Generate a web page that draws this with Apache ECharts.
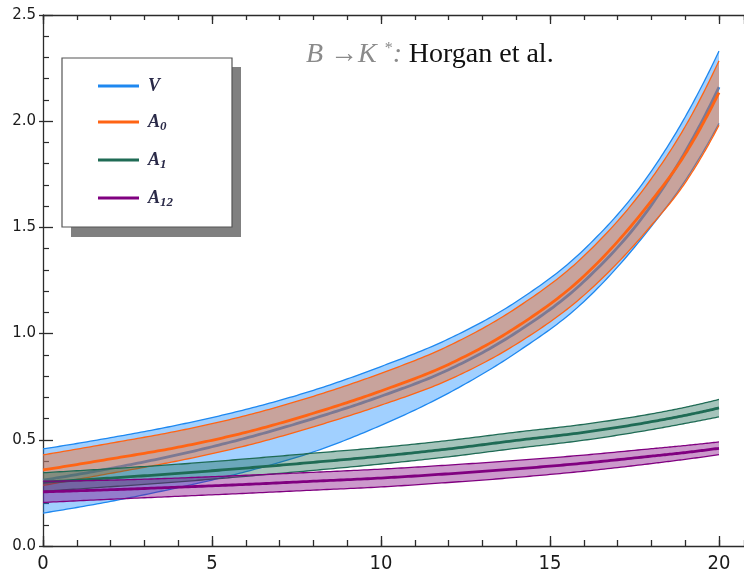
<!DOCTYPE html>
<html>
<head>
<meta charset="utf-8">
<script src="https://cdn.jsdelivr.net/npm/echarts@6/dist/echarts.min.js"></script>
<style>
  html, body { margin: 0; padding: 0; background: #ffffff; }
  #chart { width: 744px; height: 577px; }
</style>
</head>
<body>
<div id="chart"></div>
<script>
// q^2 sample points (GeV^2)
const qSq = [0, 2, 4, 6, 8, 10, 12, 14, 16, 18, 19, 20];

// V form factor: lower edge, central value, upper edge
const vLow  = [0.155, 0.210, 0.275, 0.350, 0.443, 0.568, 0.720, 0.910, 1.150, 1.505, 1.720, 1.990];
const vMid  = [0.310, 0.365, 0.430, 0.508, 0.600, 0.705, 0.830, 1.005, 1.245, 1.605, 1.855, 2.160];
const vHigh = [0.457, 0.510, 0.570, 0.643, 0.733, 0.845, 0.975, 1.150, 1.395, 1.765, 2.020, 2.330];

// A0
const a0Low  = [0.285, 0.342, 0.401, 0.472, 0.561, 0.663, 0.782, 0.950, 1.180, 1.510, 1.710, 1.981];
const a0Mid  = [0.358, 0.410, 0.465, 0.535, 0.625, 0.730, 0.855, 1.030, 1.270, 1.625, 1.845, 2.135];
const a0High = [0.429, 0.484, 0.542, 0.614, 0.705, 0.813, 0.942, 1.120, 1.365, 1.730, 1.975, 2.284];

// A1
const a1Low  = [0.258, 0.279, 0.302, 0.328, 0.356, 0.386, 0.420, 0.460, 0.498, 0.548, 0.577, 0.608];
const a1Mid  = [0.300, 0.320, 0.342, 0.367, 0.394, 0.423, 0.457, 0.497, 0.535, 0.585, 0.615, 0.650];
const a1High = [0.345, 0.364, 0.385, 0.410, 0.437, 0.464, 0.497, 0.536, 0.573, 0.622, 0.653, 0.690];

// A12
const a12Low  = [0.205, 0.220, 0.234, 0.248, 0.263, 0.278, 0.299, 0.323, 0.352, 0.388, 0.408, 0.430];
const a12Mid  = [0.255, 0.265, 0.277, 0.290, 0.305, 0.320, 0.340, 0.363, 0.390, 0.423, 0.440, 0.460];
const a12High = [0.305, 0.310, 0.320, 0.333, 0.347, 0.362, 0.381, 0.403, 0.428, 0.458, 0.473, 0.490];

const seriesNames = ['V', 'A0', 'A1', 'A12'];
const xTickStep = 5;
const xMinorStep = 1;
const yTickStep = 0.5;
// the plot frame extends a little past q^2 = 20 (right frame sits at the canvas edge)
const xMax = 20.74;

// Cubic Hermite curve through pixel points (three-point slopes, uneven spacing allowed),
// sampled as a polyline for drawing
function smoothPts(pts) {
  const n = pts.length;
  const h = [], s = [];
  for (let i = 0; i < n - 1; i++) {
    h.push(pts[i + 1][0] - pts[i][0]);
    s.push((pts[i + 1][1] - pts[i][1]) / h[i]);
  }
  const m = new Array(n);
  for (let i = 1; i < n - 1; i++) {
    m[i] = (s[i - 1] * h[i] + s[i] * h[i - 1]) / (h[i - 1] + h[i]);
  }
  m[0] = s[0] - (s[1] - s[0]) * h[0] / (h[0] + h[1]);
  m[n - 1] = s[n - 2] + (s[n - 2] - s[n - 3]) * h[n - 2] / (h[n - 3] + h[n - 2]);
  const out = [];
  const steps = 20;
  for (let i = 0; i < n - 1; i++) {
    const p1 = pts[i], p2 = pts[i + 1];
    const c1 = [p1[0] + h[i] / 3, p1[1] + m[i] * h[i] / 3];
    const c2 = [p2[0] - h[i] / 3, p2[1] - m[i + 1] * h[i] / 3];
    for (let k = 0; k < steps; k++) {
      const t = k / steps, u = 1 - t;
      const b0 = u * u * u, b1 = 3 * u * u * t, b2 = 3 * u * t * t, b3 = t * t * t;
      out.push([
        b0 * p1[0] + b1 * c1[0] + b2 * c2[0] + b3 * p2[0],
        b0 * p1[1] + b1 * c1[1] + b2 * c2[1] + b3 * p2[1]
      ]);
    }
  }
  out.push(pts[n - 1]);
  return out;
}

// One custom series per form factor: shaded band, two thin edges, thick central curve
function bandSeries(name, low, mid, high, lineColor, fillColor) {
  return {
    type: 'custom',
    name: name,
    xAxisIndex: 0,
    yAxisIndex: 0,
    clip: false,
    silent: true,
    itemStyle: { color: lineColor },
    encode: { x: 0, y: [1, 2, 3] },
    data: qSq.map((q, i) => [q, low[i], mid[i], high[i]]),
    renderItem: function (params, api) {
      if (params.dataIndexInside !== 0) return null;
      const n = params.dataInsideLength;
      const col = (k) => {
        const a = [];
        for (let j = 0; j < n; j++) a.push(api.coord([api.value(0, j), api.value(k, j)]));
        return a;
      };
      const lo = smoothPts(col(1));
      const md = smoothPts(col(2));
      const hi = smoothPts(col(3));
      return {
        type: 'group',
        children: [
          { type: 'polygon', shape: { points: hi.concat(lo.slice().reverse()) },
            style: { fill: fillColor, stroke: 'none' } },
          { type: 'polyline', shape: { points: hi },
            style: { fill: 'none', stroke: lineColor, lineWidth: 1.3 } },
          { type: 'polyline', shape: { points: lo },
            style: { fill: 'none', stroke: lineColor, lineWidth: 1.3 } },
          { type: 'polyline', shape: { points: md },
            style: { fill: 'none', stroke: lineColor, lineWidth: 2.8 } }
        ]
      };
    }
  };
}

const axisColor = '#2b2b2b';
const tickStyle = { color: axisColor, width: 1.3 };

// x axis factory: major (labelled) or minor tick rows, bottom or top of the frame
function xAxisDef(gridIndex, position, step, tickLen, withLine, withLabels) {
  return {
    gridIndex: gridIndex, type: 'value', position: position, min: 0, max: xMax, interval: step,
    axisLine: { show: withLine, onZero: false, lineStyle: tickStyle },
    axisTick: { show: true, inside: true, length: tickLen, lineStyle: tickStyle },
    splitLine: { show: false },
    axisLabel: withLabels ? {
      margin: 8, color: '#1a1a1a', fontSize: 20,
      fontFamily: "'Liberation Sans Narrow', 'DejaVu Sans Condensed', sans-serif",
      showMaxLabel: false
    } : { show: false }
  };
}

const chart = echarts.init(document.getElementById('chart'), null, { renderer: 'canvas' });

chart.setOption({
  animation: false,
  backgroundColor: '#ffffff',
  grid: [
    { left: 43, top: 15, bottom: 31, right: 0 },
    { left: 43, top: 15, bottom: 31, right: 0 }
  ],
  xAxis: [
    xAxisDef(0, 'bottom', xTickStep, 10, true, true),
    xAxisDef(0, 'top', xTickStep, 9, true, false),
    xAxisDef(1, 'bottom', xMinorStep, 6, false, false),
    xAxisDef(1, 'top', xMinorStep, 5, false, false)
  ],
  yAxis: [
    {
      gridIndex: 0, type: 'value', position: 'left', min: 0, max: 2.5, interval: yTickStep,
      axisLine: { show: true, onZero: false, lineStyle: tickStyle },
      axisTick: { show: true, inside: true, length: 10, lineStyle: tickStyle },
      minorTick: { show: true, splitNumber: 5, length: 6, lineStyle: { color: axisColor, width: 1.2 } },
      splitLine: { show: false },
      axisLabel: {
        margin: 7, color: '#1a1a1a', fontSize: 15, fontFamily: "'DejaVu Sans', sans-serif",
        formatter: (v) => v.toFixed(1)
      }
    },
    {
      gridIndex: 0, type: 'value', position: 'right', min: 0, max: 2.5, interval: yTickStep,
      axisLine: { show: false },
      axisTick: { show: true, inside: true, length: 4, lineStyle: tickStyle },
      splitLine: { show: false },
      axisLabel: { show: false }
    },
    {
      gridIndex: 1, type: 'value', min: 0, max: 2.5, show: false
    }
  ],
  legend: {
    data: seriesNames,
    orient: 'vertical',
    left: 98,
    top: 77,
    padding: 0,
    itemGap: 18,
    itemWidth: 41,
    itemHeight: 3,
    icon: 'rect',
    selectedMode: false,
    z: 60,
    formatter: (name) => name === 'V' ? '{m|V}' : '{m|A}{s|' + name.slice(1) + '}',
    textStyle: {
      rich: {
        m: { fontFamily: "'Liberation Serif', serif", fontStyle: 'italic', fontWeight: 'bold',
             fontSize: 18, color: '#2a2a48', lineHeight: 22, padding: [0, 0, 0, 4] },
        s: { fontFamily: "'Liberation Serif', serif", fontStyle: 'italic', fontWeight: 'bold',
             fontSize: 13, color: '#2a2a48', lineHeight: 15, verticalAlign: 'bottom' }
      }
    }
  },
  graphic: [
    { type: 'rect', z: 50, silent: true, shape: { x: 71, y: 67, width: 170, height: 170 },
      style: { fill: '#808080' } },
    { type: 'rect', z: 51, silent: true, shape: { x: 62, y: 58, width: 170, height: 169 },
      style: { fill: '#ffffff', stroke: '#555555', lineWidth: 1.2 } },
    {
      type: 'text', z: 52, silent: true, left: 306, top: 41,
      style: {
        text: '{g|B \u2192K}{sup|  *}{g|:}  {h|Horgan et al.}',
        rich: {
          g: { fontFamily: "'Liberation Serif', serif", fontStyle: 'italic', fontSize: 28, fill: '#8a8a8a' },
          sup: { fontFamily: "'Liberation Serif', serif", fontSize: 16, fill: '#8a8a8a', verticalAlign: 'top', lineHeight: 16 },
          h: { fontFamily: "'Liberation Serif', serif", fontSize: 28, fill: '#111111' }
        }
      }
    }
  ],
  series: [
    bandSeries('V',   vLow,   vMid,   vHigh,   '#1e88f0', 'rgba(30,144,255,0.42)'),
    bandSeries('A0',  a0Low,  a0Mid,  a0High,  '#ff6414', 'rgba(255,100,20,0.42)'),
    bandSeries('A1',  a1Low,  a1Mid,  a1High,  '#1f6b55', 'rgba(31,107,85,0.40)'),
    bandSeries('A12', a12Low, a12Mid, a12High, '#800080', 'rgba(128,0,128,0.40)')
  ]
});
</script>
</body>
</html>
